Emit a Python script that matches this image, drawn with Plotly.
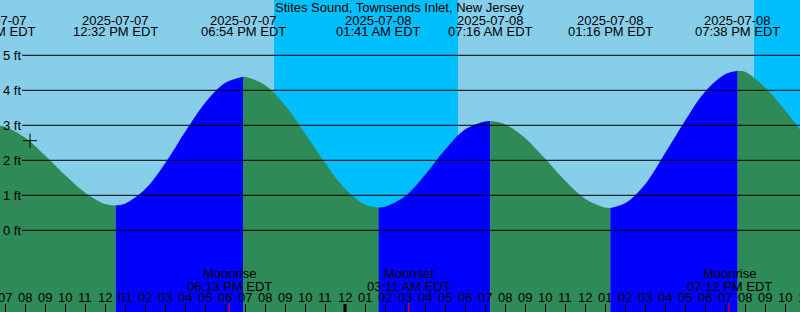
import plotly.graph_objects as go
import pandas as pd

# ---------------- data ----------------
location = "Stites Sound, Townsends Inlet, New Jersey"

# hourly tide readings (ft) starting 2025-07-07 07:00
hourly_start = "2025-07-07 07:00"
hourly_heights = [2.96, 2.65, 2.14, 1.58, 1.08, 0.75, 0.76, 1.17, 1.91, 2.81,
                  3.64, 4.21, 4.39, 4.15, 3.57, 2.77, 1.92, 1.19, 0.74, 0.67,
                  0.97, 1.58, 2.30, 2.88, 3.11, 3.03, 2.64, 2.05, 1.42, 0.90,
                  0.65, 0.77, 1.31, 2.20, 3.13, 3.96, 4.46, 4.53, 4.08, 3.43]
edge_times = ["2025-07-07 06:45", "2025-07-08 22:45"]
edge_heights = [2.99, 2.88]

extreme_times = ["2025-07-07 06:25", "2025-07-07 12:32", "2025-07-07 18:54",
                 "2025-07-08 01:41", "2025-07-08 07:16", "2025-07-08 13:16",
                 "2025-07-08 19:38"]
extreme_heights = [3.01, 0.71, 4.39, 0.65, 3.12, 0.64, 4.56]
extreme_kinds = ["high", "low", "high", "low", "high", "low", "high"]
extreme_dates = ["2025-07-07", "2025-07-07", "2025-07-07", "2025-07-08",
                 "2025-07-08", "2025-07-08", "2025-07-08"]
extreme_clock = ["06:25 AM EDT", "12:32 PM EDT", "06:54 PM EDT", "01:41 AM EDT",
                 "07:16 AM EDT", "01:16 PM EDT", "07:38 PM EDT"]

moon_times = ["2025-07-07 18:13", "2025-07-08 03:11", "2025-07-08 19:12"]
moon_events = ["Moonrise", "Moonset", "Moonrise"]
moon_clock = ["06:13 PM EDT", "03:11 AM EDT", "07:12 PM EDT"]

night_starts = ["2025-07-07 20:27", "2025-07-08 20:27"]
night_ends = ["2025-07-08 05:39", "2025-07-09 05:39"]

midnight_times = ["2025-07-08 00:00"]
mark_time = "2025-07-07 08:15"
mark_height = 2.56

level_values = [0, 1, 2, 3, 4, 5]
level_labels = ["0 ft", "1 ft", "2 ft", "3 ft", "4 ft", "5 ft"]
hour_label_start = "2025-07-07 07:00"
hour_label_count = 41
view_start = "2025-07-07 06:45"
view_end = "2025-07-08 22:45"
y_range = [-2.334, 6.58]

# ---------------- styles ----------------
W, H = 800, 312
DAY = "#87CEEB"
NIGHT = "#00BFFF"
FALL = "#2E8B57"
RISE = "#0000FF"
FONT = "Liberation Sans"
FS = 13
TXT = dict(family=FONT, size=FS, color="black")

hourly_times = pd.date_range(hourly_start, periods=len(hourly_heights), freq="h")
series = pd.concat([
    pd.DataFrame({"t": hourly_times, "h": hourly_heights}),
    pd.DataFrame({"t": pd.to_datetime(edge_times), "h": edge_heights}),
    pd.DataFrame({"t": pd.to_datetime(extreme_times), "h": extreme_heights}),
]).sort_values("t").drop_duplicates("t").reset_index(drop=True)

fig = go.Figure()

ext_t = pd.to_datetime(extreme_times)
end_t = pd.to_datetime(view_end)
for i, t0 in enumerate(ext_t):
    t1 = ext_t[i + 1] if i + 1 < len(ext_t) else end_t
    seg = series[(series.t >= t0) & (series.t <= t1)]
    color = FALL if extreme_kinds[i] == "high" else RISE
    fig.add_trace(go.Scatter(x=[t0, t1], y=[y_range[0] - 1] * 2, mode="lines",
                             line=dict(width=0), hoverinfo="skip", showlegend=False))
    fig.add_trace(go.Scatter(x=seg.t, y=seg.h, mode="lines", fill="tonexty",
                             fillcolor=color, line=dict(width=0, shape="spline", color=color),
                             hoverinfo="skip", showlegend=False))

fig.add_trace(go.Scatter(x=[pd.to_datetime(mark_time)], y=[mark_height], mode="markers",
                         marker=dict(symbol="cross-thin", size=10,
                                     line=dict(color="black", width=1)),
                         showlegend=False, hoverinfo="skip"))

shapes = []
for a, b in zip(night_starts, night_ends):
    shapes.append(dict(type="rect", xref="x", yref="paper", x0=a, x1=b, y0=0, y1=1,
                       fillcolor=NIGHT, line=dict(width=0), layer="below"))
for v in level_values:
    shapes.append(dict(type="line", xref="paper", yref="y", x0=22 / W, x1=1, y0=v, y1=v,
                       line=dict(color="black", width=1), layer="above"))
for t in midnight_times:
    shapes.append(dict(type="line", xref="x", yref="paper", x0=t, x1=t, y0=0, y1=8 / H,
                       line=dict(color="black", width=3), layer="above"))
for t in moon_times:
    shapes.append(dict(type="line", xref="x", yref="paper", x0=t, x1=t, y0=0, y1=9 / H,
                       line=dict(color="#FF0000", width=1), layer="above"))


def ypx(px):
    return 1 - px / H


t_view0 = pd.to_datetime(view_start)
span = (end_t - t_view0).total_seconds()


def xfrac(t):
    return (pd.to_datetime(t) - t_view0).total_seconds() / span


annotations = [dict(text=location, xref="paper", yref="paper", x=0.5, y=ypx(7.5),
                    showarrow=False, xanchor="center", yanchor="middle", font=TXT)]
for t, d, c in zip(ext_t, extreme_dates, extreme_clock):
    for txt, py in ((d, 20.0), (c, 31.8)):
        annotations.append(dict(text=txt, xref="paper", yref="paper", x=xfrac(t), y=ypx(py),
                                showarrow=False, xanchor="center", yanchor="middle", font=TXT))
for t, e, c in zip(moon_times, moon_events, moon_clock):
    for txt, py in ((e, 273.8), (c, 286.0)):
        annotations.append(dict(text=txt, xref="x", yref="paper", x=t, y=ypx(py),
                                showarrow=False, xanchor="center", yanchor="middle", font=TXT))
for t in pd.date_range(hour_label_start, periods=hour_label_count, freq="h"):
    annotations.append(dict(text=t.strftime("%I"), xref="paper", yref="paper", x=xfrac(t),
                            y=ypx(297.6), showarrow=False, xanchor="center", yanchor="middle",
                            font=TXT))
for v, lab in zip(level_values, level_labels):
    annotations.append(dict(text=lab, xref="paper", yref="y", x=1.0 / W, y=v,
                            showarrow=False, xanchor="left", yanchor="middle", font=TXT))

fig.update_layout(
    width=W, height=H, margin=dict(l=0, r=0, t=0, b=0, pad=0),
    paper_bgcolor=DAY, plot_bgcolor=DAY, showlegend=False,
    shapes=shapes, annotations=annotations,
    font=TXT,
    xaxis=dict(type="date", range=[view_start, view_end], showgrid=False, zeroline=False,
               showline=False, ticks="inside", ticklen=8, tickwidth=1, tickcolor="black",
               tick0=hourly_start, dtick=3600000, showticklabels=False),
    yaxis=dict(range=y_range, showgrid=False, zeroline=False, showline=False,
               tickvals=level_values, ticks="", showticklabels=False),
)

fig.write_html("out.html")
